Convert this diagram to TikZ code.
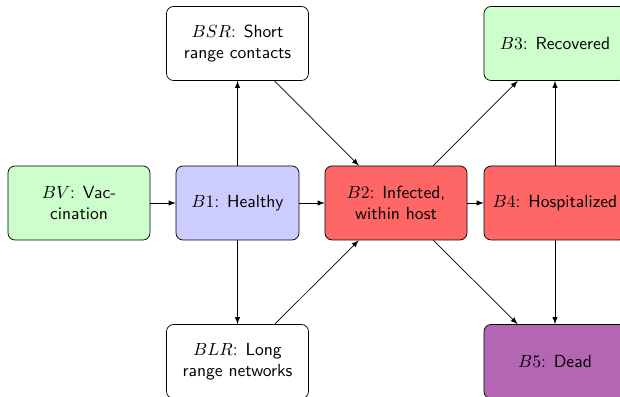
\documentclass[tikz,border=0pt]{standalone}
\usetikzlibrary{arrows}

\definecolor{vacc}{RGB}{204,255,204}
\definecolor{healthy}{RGB}{204,204,255}
\definecolor{sick}{RGB}{255,102,102}
\definecolor{dead}{RGB}{179,102,179}

\begin{document}
\begin{tikzpicture}[>=latex,
  box/.style={draw, rounded corners, align=center, font=\sffamily,
              minimum height=1.48cm, minimum width=2.84cm}]
\useasboundingbox (0,0) rectangle (12.4,-7.94);
\node[box, fill=vacc]    (bv)  at (1.58,-4.06)  {$BV$: Vac-\\cination};
\node[box, fill=healthy, minimum width=2.46cm] (b1) at (4.75,-4.06) {$B1$: Healthy};
\node[box]               (bsr) at (4.75,-0.87)  {$BSR$: Short\\range contacts};
\node[box]               (blr) at (4.75,-7.23)  {$BLR$: Long\\range networks};
\node[box, fill=sick]    (b2)  at (7.92,-4.06)  {$B2$: Infected,\\within host};
\node[box, fill=vacc]    (b3)  at (11.1,-0.87)  {$B3$: Recovered};
\node[box, fill=sick]    (b4)  at (11.1,-4.06)  {$B4$: Hospitalized};
\node[box, fill=dead]    (b5)  at (11.1,-7.23)  {$B5$: Dead};

\draw[->] (bv) -- (b1);
\draw[->] (b1) -- (bsr);
\draw[->] (b1) -- (blr);
\draw[->] (b1) -- (b2);
\draw[->] (bsr) -- (b2);
\draw[->] (blr) -- (b2);
\draw[->] (b2) -- (b4);
\draw[->] (b2) -- (b3);
\draw[->] (b2) -- (b5);
\draw[->] (b4) -- (b3);
\draw[->] (b4) -- (b5);
\end{tikzpicture}
\end{document}
